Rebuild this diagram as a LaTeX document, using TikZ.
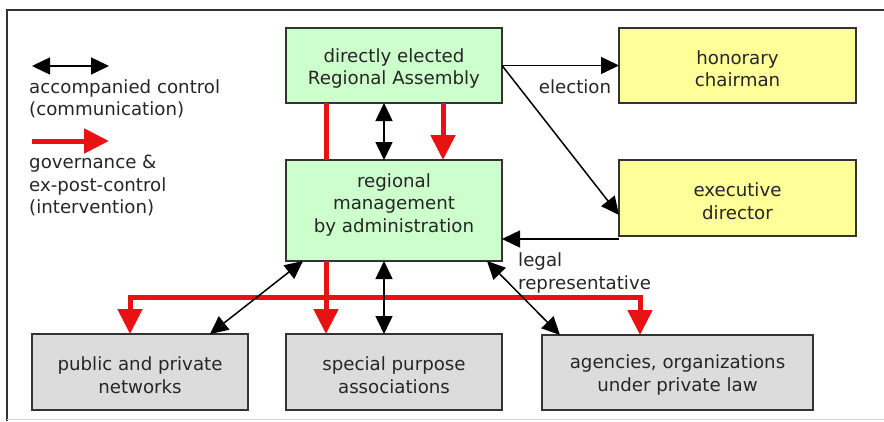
\documentclass[tikz,border=0pt]{standalone}
\usepackage{fontspec}
\setmainfont{DejaVu Sans}
\usetikzlibrary{arrows.meta}
\definecolor{txt}{HTML}{262626}
\definecolor{bord}{HTML}{333333}
\definecolor{boxgreen}{RGB}{204,255,204}
\definecolor{boxyellow}{RGB}{255,255,153}
\definecolor{boxgrey}{RGB}{220,220,220}
\definecolor{govred}{RGB}{232,18,18}
\begin{document}
\begin{tikzpicture}[x=1pt,y=-1pt,
  font=\fontsize{18.2}{22.5}\selectfont, text=txt,
  box/.style={draw=bord, line width=1.5pt, inner sep=0pt, outer sep=0pt},
  gbox/.style={box, fill=boxgreen, minimum width=216pt},
  ybox/.style={box, fill=boxyellow, minimum width=237pt},
  greybox/.style={box, fill=boxgrey, minimum height=76pt},
  bt/.style={inner sep=0pt, align=center},
  ctrl/.style={draw=black, line width=1.5pt, {Triangle[length=18pt,width=17pt]}-{Triangle[length=18pt,width=17pt]}},
  oneway/.style={draw=black, line width=1.5pt, -{Triangle[length=18pt,width=17pt]}},
  gov/.style={draw=govred, line width=5pt, -{Triangle[length=25pt,width=24pt]}},
  govline/.style={draw=govred, line width=5pt},
  lbl/.style={inner sep=0pt, align=left}
]
\useasboundingbox (0,0) rectangle (884,421);
% frame
\draw[bord, line width=1.5pt] (7,421) -- (7,10) -- (884,10);
\draw[black!15, line width=1pt] (7,419.5) -- (884,419.5);

% boxes
\node[gbox, minimum height=75pt] (asm) at (394,65.5) {};
\node[bt] (asmt) at (394,68.5) {directly elected\\Regional Assembly};
\node[ybox, minimum height=75pt] (hon) at (737.5,65.5) {};
\node[bt] (hont) at (737.5,68.5) {honorary\\chairman};
\node[ybox, minimum height=76pt] (exe) at (737.5,198) {};
\node[bt] (exet) at (737.5,201) {executive\\director};
\node[gbox, minimum height=101pt] (mgmt) at (394,210.5) {};
\node[bt] (mgmtt) at (394,204.5) {regional\\management\\by administration};
\node[greybox, minimum width=216pt] (pub) at (140,372) {};
\node[bt] (pubt) at (140,375) {public and private\\networks};
\node[greybox, minimum width=216pt] (spc) at (394,372) {};
\node[bt] (spct) at (394,375) {special purpose\\associations};
\node[greybox, minimum width=271pt, minimum height=75pt] (agn) at (677.5,372.5) {};
\node[bt] (agnt) at (677.5,375) {agencies, organizations\\under private law};

% legend
\coordinate (l1a) at (32,66);
\coordinate (l1b) at (109,66);
\draw[ctrl] (l1a) -- (l1b);
\node[lbl, anchor=north west] (l1t) at (29,79) {accompanied control\\(communication)};
\coordinate (l2a) at (32,141);
\coordinate (l2b) at (109,141);
\draw[gov] (l2a) -- (l2b);
\node[lbl, anchor=north west] (l2t) at (29,155) {governance \&\\ex-post-control\\(intervention)};

% guide coordinates
\coordinate (rxa) at (326,0);
\coordinate (rxb) at (443,0);
\coordinate (bx) at (384,0);
\coordinate (lx) at (130,297);
\coordinate (rx) at (640,297);

% red governance
\draw[govline] (asm.south -| rxa) -- (mgmt.north -| rxa);
\draw[gov] (asm.south -| rxb) -- (mgmt.north -| rxb);
\draw[gov] (mgmt.south -| rxa) -- (spc.north -| rxa);
\draw[govred, line width=5pt, {Triangle[length=25pt,width=24pt]}-{Triangle[length=25pt,width=24pt]}]
  (pub.north -| lx) -- (lx) -- (rx) -- (agn.north -| rx);

% black connectors
\draw[ctrl] (asm.south -| bx) -- (mgmt.north -| bx);
\draw[oneway] (asm.east) -- (hon.west);
\node[inner sep=0pt] (elec) at (575,87) {election};
\draw[oneway] (asm.east) -- ([yshift=-17pt]exe.west);
\draw[oneway] ([yshift=-3pt]exe.south west) -- ([yshift=-3pt]exe.south west -| mgmt.east);
\node[lbl, anchor=west] (legal) at (518,273) {legal\\representative};
\draw[ctrl] ([xshift=17pt]mgmt.south west) -- ([xshift=178pt]pub.north west);
\draw[ctrl] (mgmt.south -| bx) -- (spc.north -| bx);
\draw[ctrl] ([xshift=-15pt]mgmt.south east) -- ([xshift=18pt]agn.north west);
\end{tikzpicture}
\end{document}
